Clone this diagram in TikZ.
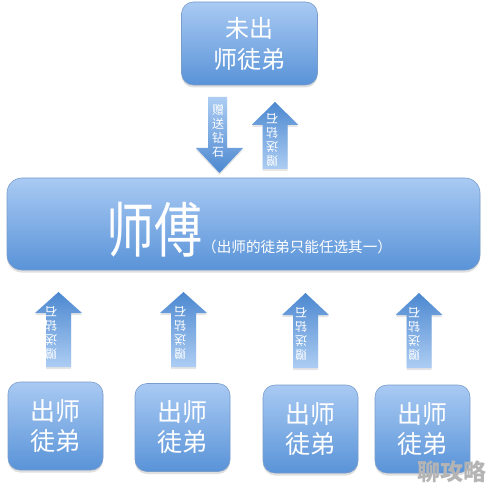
\documentclass[tikz,border=0pt]{standalone}
\usepackage{fontspec}
\setmainfont{Noto Sans CJK SC}
\usetikzlibrary{shadows}
\definecolor{boxtop}{HTML}{A9CAF3}
\definecolor{boxbot}{HTML}{5993D8}
\definecolor{boxline}{HTML}{7A9CCB}
\definecolor{arrlight}{HTML}{ADCDF3}
\definecolor{arrdark}{HTML}{4C88D0}
\definecolor{wmgray}{HTML}{B4B4B4}
\newcommand\myuparr[4]{%
  \shade[arrshape, top color=arrdark, bottom color=arrlight]
    (#1,#2) -- ({#1+23.5},#3) -- ({#1+12.5},#3) -- ({#1+12.5},#4) --
    ({#1-12.5},#4) -- ({#1-12.5},#3) -- ({#1-23.5},#3) -- cycle;}
\begin{document}
\begin{tikzpicture}[x=1pt,y=-1pt,
  box/.style={rounded corners=12pt, draw=boxline, line width=0.6pt,
    top color=boxtop, bottom color=boxbot, text=white, align=center,
    inner sep=0pt, drop shadow={shadow xshift=0pt, shadow yshift=-2.5pt, opacity=0.25}},
  arrshape/.style={drop shadow={shadow xshift=0pt, shadow yshift=-2pt, opacity=0.2}},
  arrtxt/.style={text=white, align=center, inner sep=0pt,
    font=\fontsize{12}{14}\selectfont},
  smallbox/.style={box, minimum width=95pt, minimum height=88pt,
    font=\fontsize{25}{30}\selectfont}]
\useasboundingbox[fill=white] (0,0) rectangle (494,494);

% top box
\node[box, minimum width=136pt, minimum height=83pt,
  font=\fontsize{24}{31}\selectfont] (top) at (249.5,43.5) {未出\\师徒弟};

% big box
\node[box, rounded corners=15pt, minimum width=473pt, minimum height=92pt] (master) at (243.5,224) {};
\node[text=white, inner sep=0pt, anchor=base west] (mastertext) at (106,252)
  {\scalebox{0.8}[1]{\fontsize{60}{60}\selectfont 师傅}\fontsize{14.6}{15}\selectfont（出师的徒弟只能任选其一）};

% top arrows
\shade[arrshape, top color=arrlight, bottom color=arrdark]
  (208,97) -- (227,97) -- (227,148) -- (243,148) -- (219.5,173) -- (196,148) -- (208,148) -- cycle;
\node[arrtxt] (downtxt) at (218,131) {赠\\送\\钻\\石};
\myuparr{275}{102}{125}{169}
\node[arrtxt, rotate=180] (uptxt) at (272,140) {赠\\送\\钻\\石};

% bottom arrows
\myuparr{58.5}{292}{313}{367}
\myuparr{183.5}{292}{313}{367}
\myuparr{305.5}{293}{315}{368}
\myuparr{419}{293}{315}{368}
\node[arrtxt, rotate=180] (t1) at (51,333) {赠\\送\\钻\\石};
\node[arrtxt, rotate=180] (t2) at (180,333) {赠\\送\\钻\\石};
\node[arrtxt, rotate=180] (t3) at (301,334) {赠\\送\\钻\\石};
\node[arrtxt, rotate=180] (t4) at (414,334) {赠\\送\\钻\\石};

% bottom boxes
\node[smallbox] (d1) at (55.5,426) {出师\\徒弟};
\node[smallbox] (d2) at (182.5,427.5) {出师\\徒弟};
\node[smallbox] (d3) at (310.5,429) {出师\\徒弟};
\node[smallbox] (d4) at (422.5,429) {出师\\徒弟};

% watermark
\node[inner sep=0pt, text=wmgray, font=\bfseries\fontsize{23}{23}\selectfont] (wm) at (452,472) {聊攻略};
\end{tikzpicture}
\end{document}
